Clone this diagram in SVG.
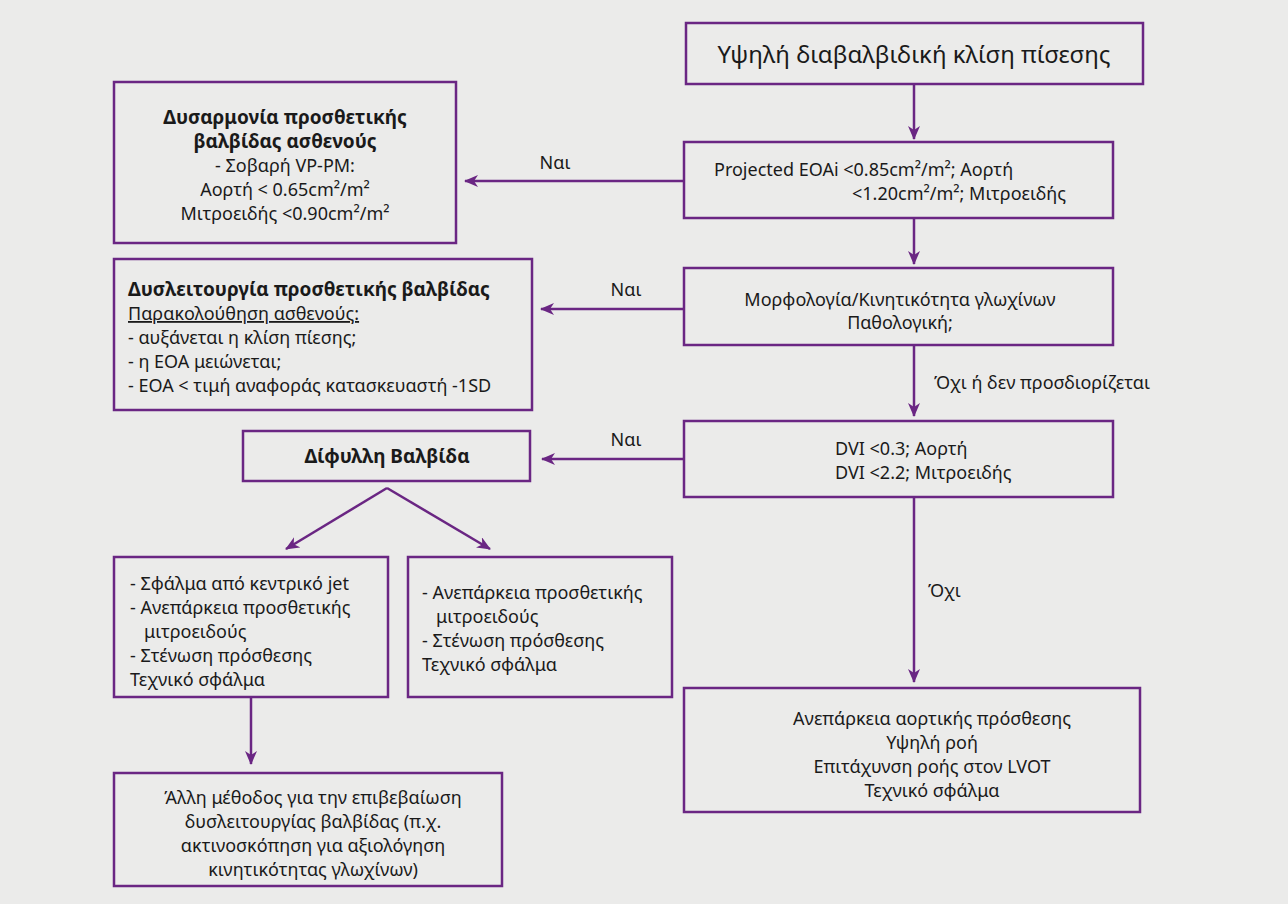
<svg xmlns="http://www.w3.org/2000/svg" width="1288" height="904" viewBox="0 0 1288 904">
<defs>
<marker id="ah" viewBox="0 0 14 12" refX="13" refY="6" markerWidth="14" markerHeight="12" markerUnits="userSpaceOnUse" orient="auto">
<path d="M0,0 L14,6 L0,12 L4,6 z" fill="#6a2683"/>
</marker>
<style>
.box{fill:#ebebea;stroke:#6a2683;stroke-width:2.5}
.t{font-family:"Noto Sans","Open Sans",sans-serif;font-size:18px;fill:#1a1a1a}
.b{font-weight:bold;font-size:19px}
.c{text-anchor:middle}
.ln{stroke:#6a2683;stroke-width:2.5;fill:none;marker-end:url(#ah)}
</style>
</defs>
<rect width="1288" height="904" fill="#ebebea"/>
<g id="connectors">
<line class="ln" x1="914" y1="84" x2="914" y2="139"/>
<line class="ln" x1="684" y1="181" x2="465" y2="181"/>
<line class="ln" x1="914" y1="218" x2="914" y2="264"/>
<line class="ln" x1="684" y1="309" x2="541" y2="309"/>
<line class="ln" x1="914" y1="345" x2="914" y2="416"/>
<line class="ln" x1="684" y1="459" x2="542" y2="459"/>
<line class="ln" x1="387" y1="488" x2="286" y2="549"/>
<line class="ln" x1="387" y1="488" x2="490" y2="549"/>
<line class="ln" x1="251" y1="697" x2="251" y2="764"/>
<line class="ln" x1="914" y1="497" x2="914" y2="682"/>
<text class="t" x="555" y="169" text-anchor="middle">Ναι</text>
<text class="t" x="626" y="296" text-anchor="middle">Ναι</text>
<text class="t" x="626" y="446" text-anchor="middle">Ναι</text>
<text class="t" x="934" y="389">Όχι ή δεν προσδιορίζεται</text>
<text class="t" x="928" y="597">Όχι</text>
</g>
<g id="n1">
<rect class="box" x="686" y="23" width="457" height="61"/>
<text class="t c" x="914" y="63" style="font-size:24px">Υψηλή διαβαλβιδική κλίση πίσεσης</text>
</g>
<g id="n2">
<rect class="box" x="684" y="142" width="429" height="76"/>
<text class="t" x="714" y="176">Projected EOAi &lt;0.85cm²/m²; Αορτή</text>
<text class="t" x="852" y="200">&lt;1.20cm²/m²; Μιτροειδής</text>
</g>
<g id="n3">
<rect class="box" x="114" y="82" width="342" height="161"/>
<text class="t b c" x="285" y="124">Δυσαρμονία προσθετικής</text>
<text class="t b c" x="285" y="148">βαλβίδας ασθενούς</text>
<text class="t c" x="285" y="172">- Σοβαρή VP-PM:</text>
<text class="t c" x="285" y="196">Αορτή &lt; 0.65cm²/m²</text>
<text class="t c" x="285" y="220">Μιτροειδής &lt;0.90cm²/m²</text>
</g>
<g id="n4">
<rect class="box" x="684" y="268" width="429" height="77"/>
<text class="t c" x="900" y="306">Μορφολογία/Κινητικότητα γλωχίνων</text>
<text class="t c" x="900" y="329">Παθολογική;</text>
</g>
<g id="n5">
<rect class="box" x="114" y="259" width="418" height="151"/>
<text class="t b" x="128" y="296">Δυσλειτουργία προσθετικής βαλβίδας</text>
<text class="t" x="128" y="320" text-decoration="underline">Παρακολούθηση ασθενούς:</text>
<text class="t" x="128" y="344">- αυξάνεται η κλίση πίεσης;</text>
<text class="t" x="128" y="368">- η EOA μειώνεται;</text>
<text class="t" x="128" y="392">- EOA &lt; τιμή αναφοράς κατασκευαστή -1SD</text>
</g>
<g id="n6">
<rect class="box" x="684" y="421" width="429" height="76"/>
<text class="t" x="835" y="455">DVI &lt;0.3; Αορτή</text>
<text class="t" x="835" y="479">DVI &lt;2.2; Μιτροειδής</text>
</g>
<g id="n7">
<rect class="box" x="243" y="431" width="287" height="50"/>
<text class="t b c" x="387" y="463">Δίφυλλη Βαλβίδα</text>
</g>
<g id="n8">
<rect class="box" x="114" y="557" width="274" height="140"/>
<text class="t" x="130" y="590">- Σφάλμα από κεντρικό jet</text>
<text class="t" x="130" y="614">- Ανεπάρκεια προσθετικής</text>
<text class="t" x="144" y="638">μιτροειδούς</text>
<text class="t" x="130" y="662">- Στένωση πρόσθεσης</text>
<text class="t" x="130" y="686">Τεχνικό σφάλμα</text>
</g>
<g id="n9">
<rect class="box" x="408" y="557" width="264" height="140"/>
<text class="t" x="422" y="599">- Ανεπάρκεια προσθετικής</text>
<text class="t" x="436" y="623">μιτροειδούς</text>
<text class="t" x="422" y="647">- Στένωση πρόσθεσης</text>
<text class="t" x="422" y="671">Τεχνικό σφάλμα</text>
</g>
<g id="n10">
<rect class="box" x="114" y="773" width="388" height="113"/>
<text class="t c" x="313" y="804">Άλλη μέθοδος για την επιβεβαίωση</text>
<text class="t c" x="313" y="828">δυσλειτουργίας βαλβίδας (π.χ.</text>
<text class="t c" x="313" y="852">ακτινοσκόπηση για αξιολόγηση</text>
<text class="t c" x="313" y="876">κινητικότητας γλωχίνων)</text>
</g>
<g id="n11">
<rect class="box" x="684" y="688" width="456" height="124"/>
<text class="t c" x="932" y="725">Ανεπάρκεια αορτικής πρόσθεσης</text>
<text class="t c" x="932" y="749">Υψηλή ροή</text>
<text class="t c" x="932" y="773">Επιτάχυνση ροής στον LVOT</text>
<text class="t c" x="932" y="797">Τεχνικό σφάλμα</text>
</g>
</svg>
